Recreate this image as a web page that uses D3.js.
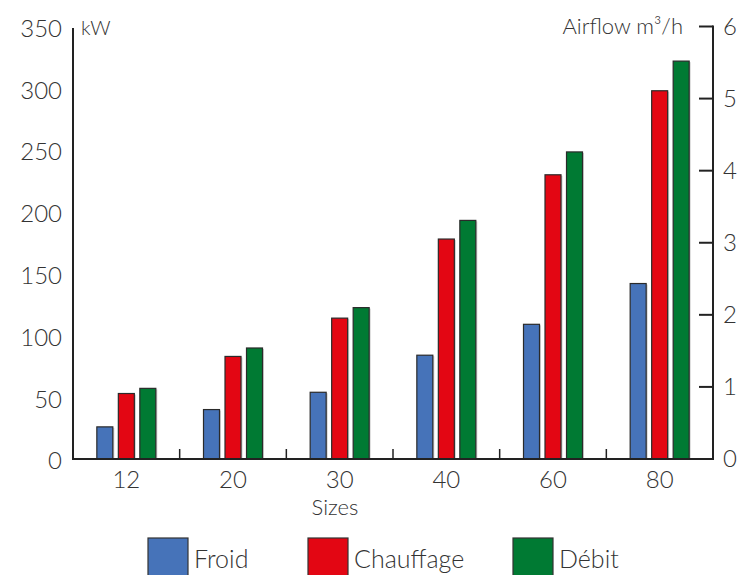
<!DOCTYPE html>
<html>
<head>
<meta charset="utf-8">
<script src="https://cdn.jsdelivr.net/npm/d3@7"></script>
<style>
  body { margin: 0; background: #fff; font-family: Lato, "Open Sans", sans-serif; }
  text { fill: #333; font-weight: 300; }
</style>
</head>
<body>
<svg width="744" height="575"></svg>
<script>
// chart data
var sizes = ["12", "20", "30", "40", "60", "80"];
var froid = [26, 40, 54, 84, 109, 142];          // kW
var chauffage = [53, 83, 114, 178, 230, 298];    // kW
var debit = [0.98, 1.54, 2.1, 3.31, 4.26, 5.52]; // airflow, right axis
var seriesNames = ["Froid", "Chauffage", "Débit"];
var seriesColors = ["#4673b9", "#e30613", "#007a33"];
var leftTicks = [0, 50, 100, 150, 200, 250, 300, 350];
var rightTicks = [0, 1, 2, 3, 4, 5, 6];

// plot box (note: "top" is taken by window.top, so use other names)
var plotLeft = 73, plotRight = 713, plotTop = 26.5, plotBase = 459;

var svg = d3.select("svg");

var x0 = d3.scaleBand().domain(sizes).range([plotLeft, plotRight]).padding(0);
var x1 = d3.scaleBand().domain(seriesNames).range([-29.5, 29.5]).paddingInner(0.256);
var yL = d3.scaleLinear().domain([0, 350]).range([plotBase, plotTop]);
var yR = d3.scaleLinear().domain([0, 6]).range([plotBase, plotTop]);

// one row per bar
var bars = [];
sizes.forEach(function(s, i) {
  bars.push({ size: s, name: "Froid", value: froid[i], y: yL });
  bars.push({ size: s, name: "Chauffage", value: chauffage[i], y: yL });
  bars.push({ size: s, name: "Débit", value: debit[i], y: yR });
});
var color = d3.scaleOrdinal().domain(seriesNames).range(seriesColors);

function barX(d) { return x0(d.size) + x0.bandwidth() / 2 + x1(d.name); }

// soft shadow behind the bars
svg.append("g").selectAll("rect")
    .data(bars)
  .enter().append("rect")
    .attr("x", function(d) { return barX(d) + 1.5; })
    .attr("y", function(d) { return d.y(d.value) + 1; })
    .attr("width", x1.bandwidth())
    .attr("height", function(d) { return plotBase - d.y(d.value); })
    .style("fill", "#d0d0d0");

svg.append("g").selectAll("rect")
    .data(bars)
  .enter().append("rect")
    .attr("x", barX)
    .attr("y", function(d) { return d.y(d.value); })
    .attr("width", x1.bandwidth())
    .attr("height", function(d) { return plotBase - d.y(d.value); })
    .style("fill", function(d) { return color(d.name); })
    .style("stroke", "#2a2a2a")
    .style("stroke-width", 1.2);

// left axis: line only, labels
svg.append("line")
    .attr("x1", plotLeft).attr("x2", plotLeft).attr("y1", 28).attr("y2", plotBase)
    .style("stroke", "#222").style("stroke-width", 2);
svg.append("g").selectAll("text")
    .data(leftTicks)
  .enter().append("text")
    .attr("x", 62)
    .attr("y", function(d) { return yL(d) + 2; })
    .attr("dy", "0.35em")
    .attr("text-anchor", "end")
    .style("font-size", "24px")
    .text(function(d) { return d; });
svg.append("text").attr("x", 81).attr("y", 35)
    .style("font-size", "20px").text("kW");

// right axis
var rAxis = svg.append("g")
    .attr("transform", "translate(" + plotRight + ",0)")
    .call(d3.axisRight(yR).tickValues(rightTicks).tickFormat(d3.format("d")).tickSize(0).tickPadding(10));
rAxis.select(".domain").remove();
rAxis.selectAll("text").style("font-size", "24px").style("font-family", "Lato, sans-serif").attr("fill", "#333");
svg.append("line")
    .attr("x1", plotRight).attr("x2", plotRight).attr("y1", plotTop - 1).attr("y2", plotBase + 1)
    .style("stroke", "#222").style("stroke-width", 2);
svg.append("g").selectAll("line")
    .data(rightTicks.slice(1))
  .enter().append("line")
    .attr("x1", plotRight - 14).attr("x2", plotRight)
    .attr("y1", function(d) { return yR(d); })
    .attr("y2", function(d) { return yR(d); })
    .style("stroke", "#222").style("stroke-width", 2);
svg.append("text").attr("x", 683).attr("y", 34)
    .attr("text-anchor", "end")
    .style("font-size", "22px").text("Airflow m³/h");

// x axis with ticks between the groups
svg.append("line")
    .attr("x1", plotLeft - 1).attr("x2", plotRight + 1).attr("y1", plotBase).attr("y2", plotBase)
    .style("stroke", "#222").style("stroke-width", 2);
var edges = sizes.map(function(s) { return x0(s); }).concat([plotRight]);
svg.append("g").selectAll("line")
    .data(edges)
  .enter().append("line")
    .attr("x1", function(d) { return d; }).attr("x2", function(d) { return d; })
    .attr("y1", plotBase - 10).attr("y2", plotBase)
    .style("stroke", "#222").style("stroke-width", 1.5);
svg.append("g").selectAll("text")
    .data(sizes)
  .enter().append("text")
    .attr("x", function(d) { return x0(d) + x0.bandwidth() / 2; })
    .attr("y", 488)
    .attr("text-anchor", "middle")
    .style("font-size", "24px")
    .text(function(d) { return d; });
svg.append("text").attr("x", 335).attr("y", 515)
    .attr("text-anchor", "middle")
    .style("font-size", "22px").text("Sizes");

// legend
var legendX = [148, 308, 513];
var legend = svg.append("g").selectAll("g")
    .data(seriesNames)
  .enter().append("g")
    .attr("transform", function(d, i) { return "translate(" + legendX[i] + ",538)"; });
legend.append("rect")
    .attr("width", 40).attr("height", 40)
    .style("fill", function(d) { return color(d); })
    .style("stroke", "#333").style("stroke-width", 1.2);
legend.append("text")
    .attr("x", 46).attr("y", 30)
    .style("font-size", "25px")
    .text(function(d) { return d; });
</script>
</body>
</html>
